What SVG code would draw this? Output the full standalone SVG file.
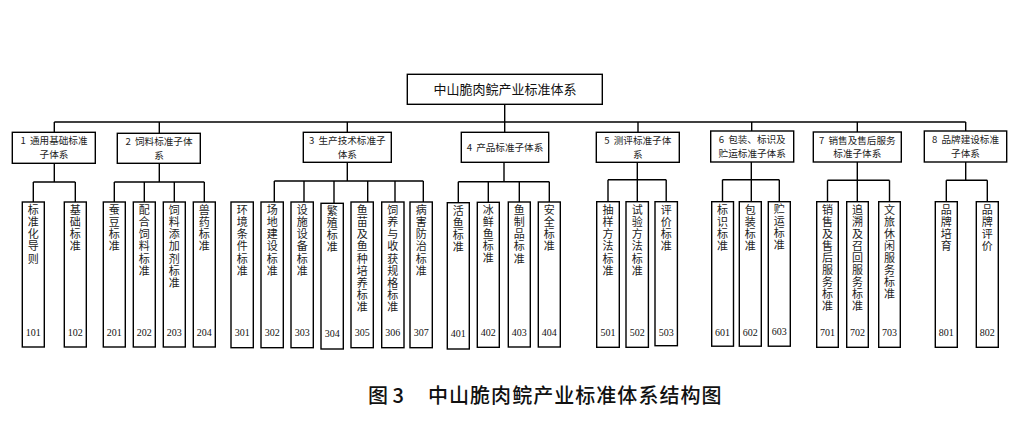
<svg xmlns="http://www.w3.org/2000/svg" width="1029" height="432" viewBox="0 0 1029 432">
<style>
rect{fill:#fff;stroke:#000;stroke-width:1.4}
.c line{stroke:#000;stroke-width:1.4}
.t1{font-family:"Noto Sans CJK SC",sans-serif;font-size:9.6px;fill:#222;text-anchor:middle}
.t0{font-family:"Noto Sans CJK SC",sans-serif;font-size:13px;fill:#111;text-anchor:middle}
.lf{font-family:"Noto Sans CJK SC",sans-serif;font-size:11px;fill:#222;writing-mode:vertical-rl;letter-spacing:1.1px}
.num{font-family:"Liberation Serif",serif;font-size:10px;fill:#111;text-anchor:middle}
.cap{font-family:"Noto Sans CJK SC",sans-serif;font-size:20px;fill:#111;font-weight:500}
</style>
<rect x="0" y="0" width="1029" height="432" style="fill:#fff;stroke:none"/>
<g class="c" id="connectors">
<line x1="504.7" y1="104.3" x2="504.7" y2="122"/>
<line x1="54.3" y1="122" x2="965.7" y2="122"/>
<line x1="54.3" y1="122" x2="54.3" y2="132.3"/>
<line x1="159.3" y1="122" x2="159.3" y2="133.3"/>
<line x1="347.3" y1="122" x2="347.3" y2="132.3"/>
<line x1="504.7" y1="122" x2="504.7" y2="132.3"/>
<line x1="638" y1="122" x2="638" y2="132.3"/>
<line x1="751.7" y1="122" x2="751.7" y2="131"/>
<line x1="857.3" y1="122" x2="857.3" y2="132"/>
<line x1="965.7" y1="122" x2="965.7" y2="131"/>
<line x1="54.3" y1="163.3" x2="54.3" y2="182"/>
<line x1="33.3" y1="182" x2="75.3" y2="182"/>
<line x1="33.3" y1="182" x2="33.3" y2="202"/>
<line x1="75.3" y1="182" x2="75.3" y2="202"/>
<line x1="159.3" y1="163.3" x2="159.3" y2="182"/>
<line x1="114.3" y1="182" x2="204.3" y2="182"/>
<line x1="114.3" y1="182" x2="114.3" y2="202"/>
<line x1="144.3" y1="182" x2="144.3" y2="202"/>
<line x1="174.3" y1="182" x2="174.3" y2="202"/>
<line x1="204.3" y1="182" x2="204.3" y2="202"/>
<line x1="347.3" y1="162.3" x2="347.3" y2="181"/>
<line x1="274.3" y1="181" x2="423.3" y2="181"/>
<line x1="274.3" y1="181" x2="274.3" y2="202"/>
<line x1="304" y1="181" x2="304" y2="202"/>
<line x1="334" y1="181" x2="334" y2="203.3"/>
<line x1="367.7" y1="181" x2="367.7" y2="202"/>
<line x1="395" y1="181" x2="395" y2="202"/>
<line x1="423.3" y1="181" x2="423.3" y2="202"/>
<line x1="504" y1="162.3" x2="504" y2="181.7"/>
<line x1="458.3" y1="181.7" x2="549.3" y2="181.7"/>
<line x1="458.3" y1="181.7" x2="458.3" y2="202.7"/>
<line x1="488.3" y1="181.7" x2="488.3" y2="202.3"/>
<line x1="519.3" y1="181.7" x2="519.3" y2="202"/>
<line x1="549.3" y1="181.7" x2="549.3" y2="202"/>
<line x1="637.3" y1="162.3" x2="637.3" y2="201.7"/>
<line x1="608" y1="179.7" x2="666.2" y2="179.7"/>
<line x1="608" y1="179.7" x2="608" y2="201.7"/>
<line x1="666.2" y1="179.7" x2="666.2" y2="201.7"/>
<line x1="751.3" y1="162" x2="751.3" y2="201.7"/>
<line x1="722.5" y1="179.7" x2="779.3" y2="179.7"/>
<line x1="722.5" y1="179.7" x2="722.5" y2="201.7"/>
<line x1="779.3" y1="179.7" x2="779.3" y2="201.7"/>
<line x1="857.3" y1="162" x2="857.3" y2="201.7"/>
<line x1="827.5" y1="180.3" x2="889.5" y2="180.3"/>
<line x1="827.5" y1="180.3" x2="827.5" y2="201.7"/>
<line x1="889.5" y1="180.3" x2="889.5" y2="201.7"/>
<line x1="965.7" y1="162" x2="965.7" y2="180.3"/>
<line x1="946.3" y1="180.3" x2="987.3" y2="180.3"/>
<line x1="946.3" y1="180.3" x2="946.3" y2="201.7"/>
<line x1="987.3" y1="180.3" x2="987.3" y2="201.7"/>
</g>
<g id="root"><rect x="407.3" y="74.3" width="195" height="30"/><text class="t0" x="505" y="94">中山脆肉鲩产业标准体系</text></g>
<g id="n1"><rect x="12.3" y="132.3" width="83" height="31"/><text class="t1"><tspan x="54" y="144.3">1 <tspan dx="2">通用基础标准</tspan></tspan><tspan x="54" y="158.2">子体系</tspan></text></g>
<g id="n2"><rect x="117.3" y="133.3" width="83" height="30"/><text class="t1"><tspan x="159" y="144.8">2 <tspan dx="2">饲料标准子体</tspan></tspan><tspan x="159" y="158.7">系</tspan></text></g>
<g id="n3"><rect x="303.3" y="132.3" width="88" height="30"/><text class="t1"><tspan x="347.3" y="143.8">3 <tspan dx="2">生产技术标准子</tspan></tspan><tspan x="347.3" y="157.7">体系</tspan></text></g>
<g id="n4"><rect x="461.3" y="132.3" width="87.4" height="30"/><text class="t1" x="505" y="150.7">4 <tspan dx="2">产品标准子体系</tspan></text></g>
<g id="n5"><rect x="596.3" y="132.3" width="83" height="30"/><text class="t1"><tspan x="637.8" y="143.8">5 <tspan dx="2">测评标准子体</tspan></tspan><tspan x="637.8" y="157.7">系</tspan></text></g>
<g id="n6"><rect x="710.7" y="131" width="83" height="31"/><text class="t1"><tspan x="752.2" y="143">6 <tspan dx="2">包装、标识及</tspan></tspan><tspan x="752.2" y="156.9">贮运标准子体系</tspan></text></g>
<g id="n7"><rect x="813.3" y="132" width="88" height="30"/><text class="t1"><tspan x="857.3" y="143.5">7 <tspan dx="2">销售及售后服务</tspan></tspan><tspan x="857.3" y="157.4">标准子体系</tspan></text></g>
<g id="n8"><rect x="924.3" y="131" width="82.4" height="31"/><text class="t1"><tspan x="965.5" y="143">8 <tspan dx="2">品牌建设标准</tspan></tspan><tspan x="965.5" y="156.9">子体系</tspan></text></g>

<g id="l101"><rect x="22.3" y="202" width="22" height="145"/><text class="lf" x="33.3" y="204.5">标准化导则</text><text class="num" x="33.3" y="335.7">101</text></g>
<g id="l102"><rect x="64.3" y="202" width="22" height="145"/><text class="lf" x="75.3" y="204.5">基础标准</text><text class="num" x="75.3" y="335.7">102</text></g>
<g id="l201"><rect x="103.3" y="202" width="22" height="145"/><text class="lf" x="114.3" y="204.5">蚕豆标准</text><text class="num" x="114.3" y="335.7">201</text></g>
<g id="l202"><rect x="133.3" y="202" width="22" height="145"/><text class="lf" x="144.3" y="204.5">配合饲料标准</text><text class="num" x="144.3" y="335.7">202</text></g>
<g id="l203"><rect x="163.3" y="202" width="22" height="145"/><text class="lf" x="174.3" y="204.5">饲料添加剂标准</text><text class="num" x="174.3" y="335.7">203</text></g>
<g id="l204"><rect x="193.3" y="202" width="22" height="145"/><text class="lf" x="204.3" y="204.5">兽药标准</text><text class="num" x="204.3" y="335.7">204</text></g>

<g id="l301"><rect x="231" y="202" width="22.3" height="145.7"/><text class="lf" x="242.2" y="204.5">环境条件标准</text><text class="num" x="242.2" y="335.7">301</text></g>
<g id="l302"><rect x="261" y="202" width="22.3" height="145.7"/><text class="lf" x="272.2" y="204.5">场地建设标准</text><text class="num" x="272.2" y="335.7">302</text></g>
<g id="l303"><rect x="291" y="202" width="22.3" height="145.7"/><text class="lf" x="302.2" y="204.5">设施设备标准</text><text class="num" x="302.2" y="335.7">303</text></g>
<g id="l304"><rect x="321" y="203.3" width="22.3" height="145.7"/><text class="lf" x="332.2" y="205.5">繁殖标准</text><text class="num" x="332.2" y="336.7">304</text></g>
<g id="l305"><rect x="351" y="202" width="22.3" height="145.7"/><text class="lf" x="362.2" y="204.5">鱼苗及鱼种培养标准</text><text class="num" x="362.2" y="335.7">305</text></g>
<g id="l306"><rect x="381.7" y="202" width="22.3" height="145.7"/><text class="lf" x="392.8" y="204.5">饲养与收获规格标准</text><text class="num" x="392.8" y="335.7">306</text></g>
<g id="l307"><rect x="410" y="202" width="22.3" height="145.7"/><text class="lf" x="421.2" y="204.5">病害防治标准</text><text class="num" x="421.2" y="335.7">307</text></g>

<g id="l401"><rect x="447.3" y="202.7" width="22" height="146.3"/><text class="lf" x="458.3" y="205">活鱼标准</text><text class="num" x="458.3" y="336.5">401</text></g>
<g id="l402"><rect x="477.3" y="202.3" width="22" height="145"/><text class="lf" x="488.3" y="204">冰鲜鱼标准</text><text class="num" x="488.3" y="335.7">402</text></g>
<g id="l403"><rect x="508.3" y="202" width="22" height="145"/><text class="lf" x="519.3" y="204.5">鱼制品标准</text><text class="num" x="519.3" y="335.7">403</text></g>
<g id="l404"><rect x="538.3" y="202" width="22" height="145"/><text class="lf" x="549.3" y="204.5">安全标准</text><text class="num" x="549.3" y="335.7">404</text></g>

<g id="l501"><rect x="596.7" y="201.7" width="22.6" height="145.6"/><text class="lf" x="608" y="204.5">抽样方法标准</text><text class="num" x="608" y="335.7">501</text></g>
<g id="l502"><rect x="626" y="201.7" width="22.4" height="145.6"/><text class="lf" x="637.2" y="204.5">试验方法标准</text><text class="num" x="637.2" y="335.7">502</text></g>
<g id="l503"><rect x="655" y="201.7" width="22.4" height="144"/><text class="lf" x="666.2" y="204.5">评价标准</text><text class="num" x="666.2" y="335.7">503</text></g>

<g id="l601"><rect x="711.7" y="201.7" width="21.8" height="144.5"/><text class="lf" x="722.5" y="204">标识标准</text><text class="num" x="722.5" y="335.5">601</text></g>
<g id="l602"><rect x="739.3" y="201.7" width="22" height="144.5"/><text class="lf" x="750.3" y="204">包装标准</text><text class="num" x="750.3" y="335.5">602</text></g>
<g id="l603"><rect x="768.3" y="201.7" width="22" height="144.5"/><text class="lf" x="779.3" y="203">贮运标准</text><text class="num" x="779.3" y="334.5">603</text></g>

<g id="l701"><rect x="816.7" y="201.7" width="21.6" height="145.6"/><text class="lf" x="827.5" y="204">销售及售后服务标准</text><text class="num" x="827.5" y="335.5">701</text></g>
<g id="l702"><rect x="846.7" y="201.7" width="21.6" height="145.6"/><text class="lf" x="857.5" y="204">追溯及召回服务标准</text><text class="num" x="857.5" y="335.5">702</text></g>
<g id="l703"><rect x="878.7" y="201.7" width="21.6" height="145.6"/><text class="lf" x="889.5" y="204">文旅休闲服务标准</text><text class="num" x="889.5" y="335.5">703</text></g>

<g id="l801"><rect x="935.3" y="201.7" width="22" height="145.6"/><text class="lf" x="946.3" y="204">品牌培育</text><text class="num" x="946.3" y="335.5">801</text></g>
<g id="l802"><rect x="976.3" y="201.7" width="22" height="145.6"/><text class="lf" x="987.3" y="204">品牌评价</text><text class="num" x="987.3" y="335.5">802</text></g>

<g id="caption"><text class="cap" y="402.5"><tspan x="368">图</tspan><tspan x="392.5">3</tspan><tspan x="428" textLength="293.5" lengthAdjust="spacing">中山脆肉鲩产业标准体系结构图</tspan></text></g>
</svg>
